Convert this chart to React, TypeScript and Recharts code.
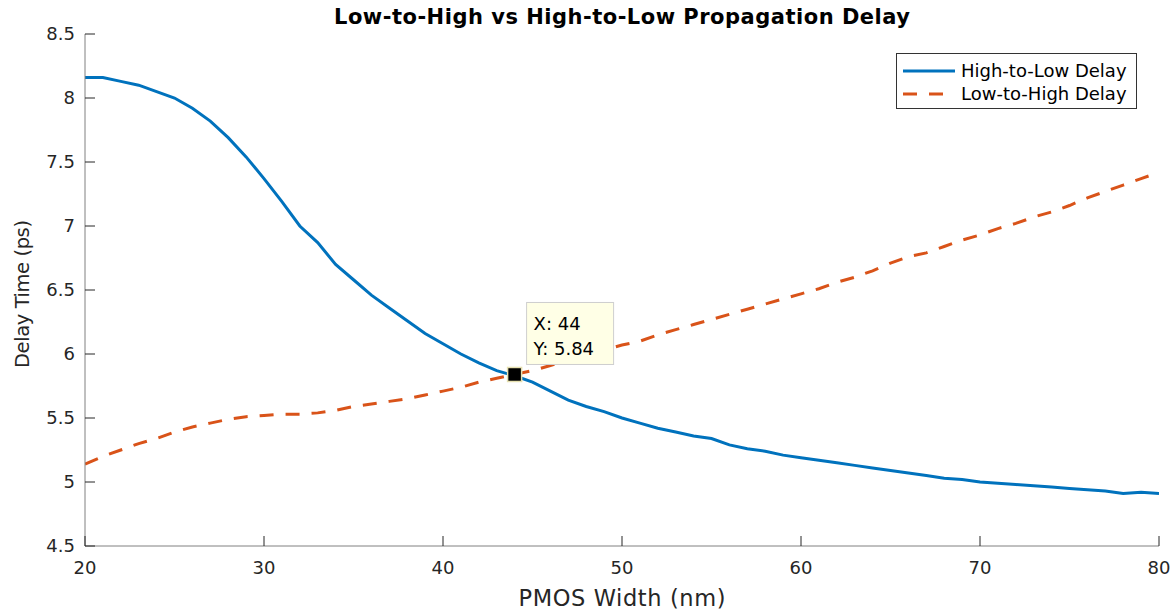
import { LineChart, Line, XAxis, YAxis, Legend, ReferenceDot } from 'recharts';

const widths = [
    20, 21, 22, 23, 24, 25, 26, 27, 28, 29, 30, 31, 32, 33, 34, 35, 36, 37, 38, 39, 40,
    41, 42, 43, 44, 45, 46, 47, 48, 49, 50, 51, 52, 53, 54, 55, 56, 57, 58, 59, 60,
    61, 62, 63, 64, 65, 66, 67, 68, 69, 70, 71, 72, 73, 74, 75, 76, 77, 78, 79, 80,
];

const highToLow = [
    8.16, 8.16, 8.13, 8.10, 8.05, 8.00, 7.92, 7.82, 7.69, 7.54, 7.37, 7.19, 7.00, 6.87, 6.70, 6.58, 6.46, 6.36, 6.26, 6.16, 6.08,
    6.00, 5.93, 5.87, 5.83, 5.78, 5.71, 5.64, 5.59, 5.55, 5.50, 5.46, 5.42, 5.39, 5.36, 5.34, 5.29, 5.26, 5.24, 5.21, 5.19,
    5.17, 5.15, 5.13, 5.11, 5.09, 5.07, 5.05, 5.03, 5.02, 5.00, 4.99, 4.98, 4.97, 4.96, 4.95, 4.94, 4.93, 4.91, 4.92, 4.91,
];

const lowToHigh = [
    5.14, 5.20, 5.25, 5.30, 5.34, 5.39, 5.43, 5.46, 5.49, 5.51, 5.52, 5.53, 5.53, 5.54, 5.56, 5.59, 5.61, 5.63, 5.65, 5.68, 5.71,
    5.74, 5.78, 5.81, 5.84, 5.87, 5.91, 5.95, 5.99, 6.03, 6.07, 6.10, 6.15, 6.19, 6.23, 6.27, 6.31, 6.35, 6.39, 6.43, 6.47,
    6.51, 6.56, 6.60, 6.65, 6.71, 6.76, 6.79, 6.84, 6.89, 6.93, 6.98, 7.02, 7.07, 7.11, 7.16, 7.22, 7.27, 7.32, 7.37, 7.42,
];

const xTicks = [20, 30, 40, 50, 60, 70, 80];
const yTicks = [4.5, 5, 5.5, 6, 6.5, 7, 7.5, 8, 8.5];

const datatip = { x: 44, y: 5.84 };

const data = widths.map((w, i) => ({ width: w, hl: highToLow[i], lh: lowToHigh[i] }));

const FONT = '"DejaVu Sans", sans-serif';
const BLUE = '#0072BD';
const ORANGE = '#D95319';
const INK = '#262626';

const XTick = ({ x, y, payload }: any) => (
    <g>
        <line x1={x} y1={y} x2={x} y2={y - 10} stroke={INK} strokeWidth={1} />
        <text x={x} y={y + 28} textAnchor="middle" fontSize={18} fontFamily={FONT} fill={INK}>
            {payload.value}
        </text>
    </g>
);

const YTick = ({ x, y, payload }: any) => (
    <g>
        <line x1={x} y1={y} x2={x + 10} y2={y} stroke={INK} strokeWidth={1} />
        <text x={x - 10} y={y} dy="0.36em" textAnchor="end" fontSize={18} fontFamily={FONT} fill={INK}>
            {payload.value}
        </text>
    </g>
);

const DatatipShape = ({ cx, cy }: any) => (
    <g>
        <rect x={cx + 12} y={cy - 72} width={87} height={62} fill="#FFFFE6" stroke="#CFCFCF" strokeWidth={1} />
        <text x={cx + 19} y={cy - 44} fontSize={18} fontFamily={FONT} fill="#000">
            {`X: ${datatip.x}`}
        </text>
        <text x={cx + 19} y={cy - 19} fontSize={18} fontFamily={FONT} fill="#000">
            {`Y: ${datatip.y}`}
        </text>
        <rect x={cx - 7} y={cy - 7} width={14} height={14} fill="#000" stroke="#E6E0B0" strokeWidth={1.5} />
    </g>
);

const LegendBox = () => (
    <div
        style={{
            border: '1px solid #333',
            background: '#fff',
            width: 241,
            height: 56,
            boxSizing: 'border-box',
            fontFamily: FONT,
            fontSize: 18,
            color: '#000',
            padding: '5px 0 0 6px',
        }}
    >
        {[
            { name: 'High-to-Low Delay', color: BLUE, dash: undefined },
            { name: 'Low-to-High Delay', color: ORANGE, dash: '14 12' },
        ].map((item) => (
            <div key={item.name} style={{ display: 'flex', alignItems: 'center', height: 23, whiteSpace: 'nowrap' }}>
                <svg width={52} height={10} style={{ marginRight: 6 }}>
                    <line x1={0} y1={5} x2={52} y2={5} stroke={item.color} strokeWidth={3} strokeDasharray={item.dash} />
                </svg>
                <span>{item.name}</span>
            </div>
        ))}
    </div>
);

export default function App() {
    return (
        <div style={{ position: 'absolute', left: 0, top: 0, width: 1175, height: 613, background: '#fff' }}>
            <LineChart width={1175} height={613} data={data} margin={{ top: 34, right: 16, bottom: 37, left: 25 }}>
                <XAxis
                    dataKey="width"
                    type="number"
                    domain={[20, 80]}
                    ticks={xTicks}
                    tick={<XTick />}
                    tickSize={0}
                    tickMargin={0}
                    tickLine={false}
                    axisLine={{ stroke: '#808080', strokeWidth: 1 }}
                    height={30}
                    allowDataOverflow
                />
                <YAxis
                    type="number"
                    domain={[4.5, 8.5]}
                    ticks={yTicks}
                    tick={<YTick />}
                    tickSize={0}
                    tickMargin={0}
                    tickLine={false}
                    axisLine={{ stroke: '#808080', strokeWidth: 1 }}
                    width={60}
                    allowDataOverflow
                />
                <Legend
                    layout="horizontal"
                    verticalAlign="middle"
                    align="center"
                    content={<LegendBox />}
                    wrapperStyle={{ position: 'absolute', left: 896, top: 53, width: 241, height: 56 }}
                />
                <Line
                    dataKey="hl"
                    name="High-to-Low Delay"
                    stroke={BLUE}
                    strokeWidth={3}
                    dot={false}
                    activeDot={false}
                    isAnimationActive={false}
                />
                <Line
                    dataKey="lh"
                    name="Low-to-High Delay"
                    stroke={ORANGE}
                    strokeWidth={3}
                    strokeDasharray="14 12"
                    dot={false}
                    activeDot={false}
                    isAnimationActive={false}
                />
                <ReferenceDot x={datatip.x} y={datatip.y} shape={<DatatipShape />} />
                <text
                    x={622}
                    y={24}
                    textAnchor="middle"
                    fontSize={21}
                    fontWeight="bold"
                    fontFamily={FONT}
                    fill="#000"
                    textLength={576}
                    lengthAdjust="spacing"
                >
                    Low-to-High vs High-to-Low Propagation Delay
                </text>
                <text
                    x={622}
                    y={606}
                    textAnchor="middle"
                    fontSize={22.5}
                    fontFamily={FONT}
                    fill={INK}
                    textLength={207}
                    lengthAdjust="spacing"
                >
                    PMOS Width (nm)
                </text>
                <text
                    x={0}
                    y={0}
                    transform="translate(29, 294) rotate(-90)"
                    textAnchor="middle"
                    fontSize={19.5}
                    fontFamily={FONT}
                    fill={INK}
                    textLength={148}
                    lengthAdjust="spacing"
                >
                    Delay Time (ps)
                </text>
            </LineChart>
        </div>
    );
}
